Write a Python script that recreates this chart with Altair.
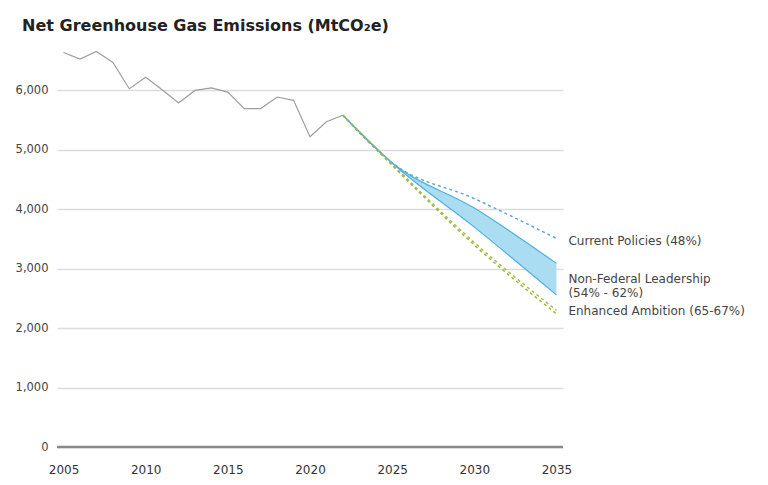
import altair as alt
import pandas as pd

hist_years = list(range(2005, 2023))
hist_values = [6638, 6528, 6655, 6472, 6028, 6222, 6011, 5789, 6000, 6044,
               5972, 5694, 5694, 5889, 5833, 5222, 5472, 5583]

proj_years = [2022, 2025, 2030, 2035]
current_policies = [5583, 4780, 4180, 3510]
nf_high = [5583, 4780, 4020, 3090]
nf_low = [5583, 4780, 3700, 2560]
ea_65 = [5583, 4760, 3440, 2300]
ea_67 = [5583, 4740, 3400, 2240]

label_texts = ["Current Policies (48%)", ["Non-Federal Leadership", "(54% - 62%)"],
               "Enhanced Ambition (65-67%)"]
label_values = [3460, 2830, 2290]
label_year = 2035

FONT = "DejaVu Sans"

hist = pd.DataFrame({"year": hist_years, "value": hist_values})
band = pd.DataFrame({"year": proj_years, "low": nf_low, "high": nf_high})
proj = pd.concat([
    pd.DataFrame({"year": proj_years, "value": current_policies, "series": "Current"}),
    pd.DataFrame({"year": proj_years, "value": ea_65, "series": "EA65"}),
    pd.DataFrame({"year": proj_years, "value": ea_67, "series": "EA67"}),
])
labels = pd.DataFrame({"year": [label_year] * 3, "value": label_values,
                       "text": label_texts})

xs = alt.Scale(domain=[2004.6, 2035.4], nice=False, zero=False)
ys = alt.Scale(domain=[0, 7000], nice=False)

x_axis = alt.Axis(values=[2005, 2010, 2015, 2020, 2025, 2030, 2035], format="d",
                  grid=False, domain=False, ticks=False, labelFont=FONT,
                  labelFontSize=12, labelColor="#333", labelPadding=17, title=None)
y_axis = alt.Axis(values=[0, 1000, 2000, 3000, 4000, 5000, 6000], format=",.0f",
                  grid=True, gridColor="#dcdcdc", gridWidth=1.5, domain=False,
                  ticks=False, labelFont=FONT, labelFontSize=11.5, labelColor="#444",
                  labelPadding=9, title=None)

base_x = alt.X("year:Q", scale=xs, axis=x_axis)
base_y = alt.Y("value:Q", scale=ys, axis=y_axis)

grid = alt.Chart(pd.DataFrame({"value": [0]})).mark_rule(
    color="#8a8a8a", strokeWidth=2.5).encode(y=alt.Y("value:Q", scale=ys, axis=y_axis))

area = alt.Chart(band).mark_area(color="#aadcf2", opacity=1, interpolate="monotone").encode(
    x=base_x, y=alt.Y("low:Q", scale=ys, axis=y_axis), y2="high:Q")

band_edges = alt.Chart(band).transform_fold(["low", "high"], as_=["edge", "value"]).mark_line(
    color="#4fb1e0", strokeWidth=1.2, interpolate="monotone").encode(
    x=base_x, y=base_y, detail="edge:N")

proj_lines = alt.Chart(proj).mark_line(strokeDash=[3, 3], strokeWidth=1.5,
                                       interpolate="monotone").encode(
    x=base_x, y=base_y, detail="series:N",
    color=alt.Color("series:N", scale=alt.Scale(domain=["Current", "EA65", "EA67"],
                                                range=["#5ea9dd", "#a9bc45", "#9cb544"]),
                    legend=None))

hist_line = alt.Chart(hist).mark_line(color="#9e9e9e", strokeWidth=1.2).encode(
    x=base_x, y=base_y)

text = alt.Chart(labels).mark_text(align="left", baseline="middle", dx=12, font=FONT,
                                   fontSize=12, color="#444", lineHeight=14).encode(
    x=base_x, y=base_y, text="text")

chart = alt.layer(grid, area, band_edges, proj_lines, hist_line, text).properties(
    width=506, height=416, background="white",
    title=alt.TitleParams("Net Greenhouse Gas Emissions (MtCO\u2082e)", anchor="start",
                          font=FONT, fontSize=16, fontWeight="bold", color="#222",
                          baseline="alphabetic", offset=0, dy=16, dx=7),
    autosize=alt.AutoSizeParams(type="none"),
    padding={"left": 57, "top": 31, "right": 205, "bottom": 38},
).configure_view(stroke=None, strokeWidth=0)

chart.save("out.html", embed_options={"renderer": "svg", "actions": False})
